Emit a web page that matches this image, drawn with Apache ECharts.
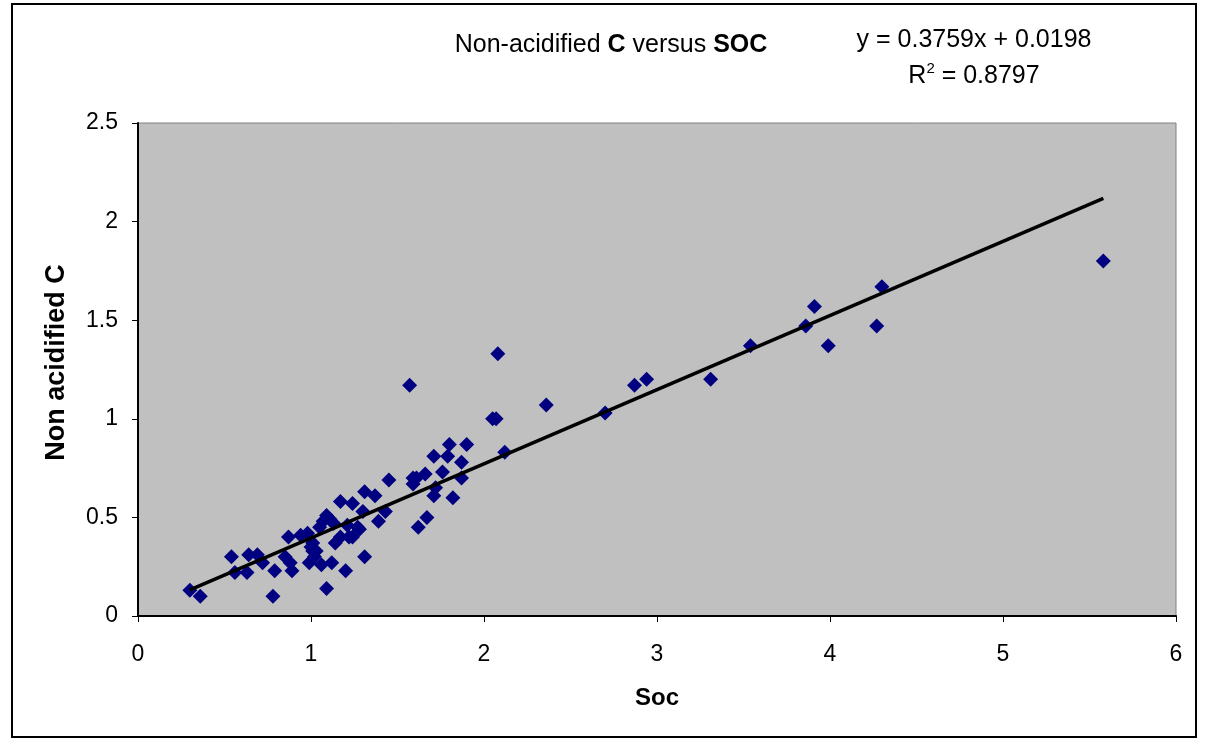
<!DOCTYPE html>
<html>
<head>
<meta charset="utf-8">
<script src="https://cdn.jsdelivr.net/npm/echarts@6/dist/echarts.min.js"></script>
<style>
html,body{margin:0;padding:0;background:#fff;}
#chart{width:1207px;height:740px;}
</style>
</head>
<body>
<div id="chart"></div>
<script>
// Soc (x) values
var socValues = [
  0.30, 0.36, 0.54, 0.56, 0.64, 0.63, 0.69, 0.72, 0.78, 0.79,
  0.85, 0.87, 0.89, 0.88, 0.94, 0.99, 1.01, 1.01, 0.98, 1.05,
  1.09, 1.13, 1.17, 1.24, 1.30, 1.31, 1.37, 1.39, 1.21, 1.27,
  1.17, 1.24, 1.14, 1.31, 1.06, 1.12, 1.20, 1.09, 1.45, 1.43,
  1.57, 1.59, 1.61, 1.66, 1.59, 1.62, 1.67, 1.71, 1.72, 1.71,
  1.76, 1.79, 1.80, 1.82, 1.87, 1.87, 1.90, 2.05, 2.07, 2.08,
  2.12, 2.36, 2.70, 2.87, 2.94, 3.31, 3.54, 3.86, 3.91, 3.99,
  4.27, 4.30, 5.58, 1.07, 1.11, 1.03, 1.22, 1.28, 1.02, 1.00
];
// Non acidified C (y) values
var nonAcidC = [
  0.13, 0.10, 0.30, 0.22, 0.31, 0.22, 0.31, 0.27, 0.10, 0.23,
  0.30, 0.40, 0.23, 0.27, 0.41, 0.27, 0.33, 0.37, 0.42, 0.45,
  0.51, 0.47, 0.58, 0.57, 0.53, 0.63, 0.61, 0.48, 0.46, 0.45,
  0.40, 0.40, 0.37, 0.30, 0.26, 0.27, 0.23, 0.14, 0.69, 0.53,
  1.17, 0.70, 0.70, 0.72, 0.67, 0.45, 0.50, 0.61, 0.65, 0.81,
  0.73, 0.81, 0.87, 0.60, 0.78, 0.70, 0.87, 1.00, 1.00, 1.33,
  0.83, 1.07, 1.03, 1.17, 1.20, 1.20, 1.37, 1.47, 1.57, 1.37,
  1.47, 1.67, 1.80, 0.48, 0.49, 0.33, 0.40, 0.44, 0.30, 0.35
];
// Trendline coefficients shown in the chart
var slope = 0.3759;
var intercept = 0.0198;
var rSquared = 0.8797;
var xTicks = [0, 1, 2, 3, 4, 5, 6];
var yTicks = [0, 0.5, 1, 1.5, 2, 2.5];

var points = socValues.map(function (x, i) { return [x, nonAcidC[i]]; });
var xMin = Math.min.apply(null, socValues);
var xMax = Math.max.apply(null, socValues);
var trend = [[xMin, slope * xMin + intercept], [xMax, slope * xMax + intercept]];

var FONT = '"Liberation Sans", Arial, sans-serif';
var chart = echarts.init(document.getElementById('chart'));
chart.setOption({
  backgroundColor: '#ffffff',
  animation: false,
  title: {
    text: '{n|Non-acidified }{b|C}{n| versus }{b|SOC}',
    left: 606,
    top: 28,
    textAlign: 'center',
    textStyle: {
      fontWeight: 'normal',
      rich: {
        n: { fontFamily: FONT, fontSize: 25, color: '#000', fontWeight: 'normal' },
        b: { fontFamily: FONT, fontSize: 25, color: '#000', fontWeight: 'bold' }
      }
    }
  },
  graphic: [
    { type: 'rect', shape: { x: 12, y: 4, width: 1184, height: 733 },
      style: { fill: 'none', stroke: '#000', lineWidth: 2 }, silent: true },
    { type: 'text', x: 974, y: 40,
      style: { text: 'y = ' + slope + 'x + ' + intercept, font: '25px ' + FONT, fill: '#000', textAlign: 'center', textVerticalAlign: 'middle' } },
    { type: 'text', x: 974, y: 76,
      style: { text: '{n|R}{s|2}{n| = ' + rSquared + '}', textAlign: 'center', textVerticalAlign: 'middle',
        rich: {
          n: { fontFamily: FONT, fontSize: 25, color: '#000', lineHeight: 30 },
          s: { fontFamily: FONT, fontSize: 15, color: '#000', verticalAlign: 'top', lineHeight: 30, padding: [0, 0, 12, 0] }
        } } }
  ],
  grid: {
    left: 138, top: 123, width: 1038, height: 493,
    show: true, backgroundColor: '#C0C0C0', borderColor: '#808080', borderWidth: 1
  },
  xAxis: {
    type: 'value', min: 0, max: 6, interval: 1,
    name: 'Soc', nameLocation: 'middle', nameGap: 70,
    nameTextStyle: { fontFamily: FONT, fontSize: 24, fontWeight: 'bold', color: '#000' },
    axisLine: { show: true, lineStyle: { color: '#000', width: 2 } },
    axisTick: { show: true, inside: false, length: 6, lineStyle: { color: '#000' } },
    axisLabel: { fontFamily: FONT, fontSize: 23, color: '#000', margin: 27,
      formatter: function (v) { return xTicks.indexOf(v) >= 0 ? String(v) : ''; } },
    splitLine: { show: false }
  },
  yAxis: {
    type: 'value', min: 0, max: 2.5, interval: 0.5,
    name: 'Non acidified C', nameLocation: 'middle', nameGap: 68,
    nameTextStyle: { fontFamily: FONT, fontSize: 27, fontWeight: 'bold', color: '#000', padding: [0, 0, 0, 14] },
    axisLine: { show: true, lineStyle: { color: '#000', width: 2 } },
    axisTick: { show: true, inside: false, length: 6, lineStyle: { color: '#000' } },
    axisLabel: { fontFamily: FONT, fontSize: 23, color: '#000', margin: 20,
      formatter: function (v) { return yTicks.indexOf(v) >= 0 ? String(v) : ''; } },
    splitLine: { show: false }
  },
  series: [
    {
      type: 'scatter', data: points, symbol: 'diamond', symbolSize: 15,
      itemStyle: { color: '#000080', opacity: 1 }, z: 3
    },
    {
      type: 'line', data: trend, symbol: 'none',
      lineStyle: { color: '#000', width: 3.5 }, z: 4
    }
  ]
});
</script>
</body>
</html>
